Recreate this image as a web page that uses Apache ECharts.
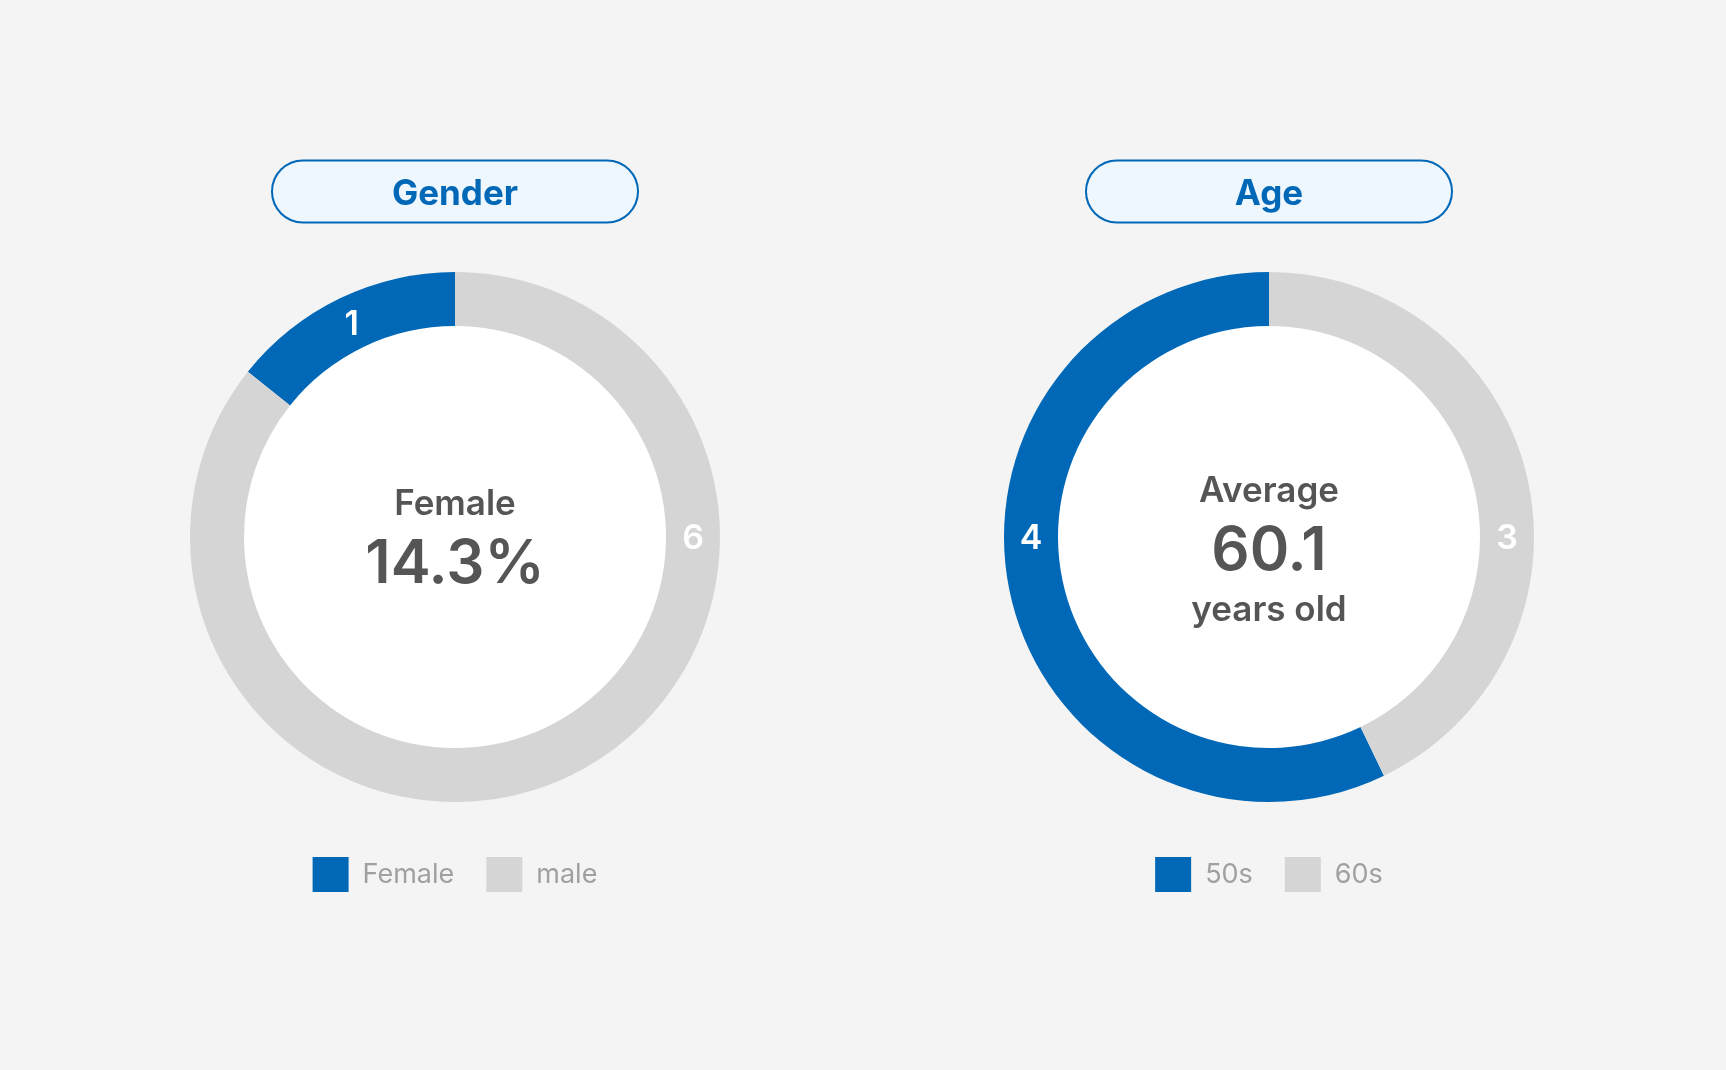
<!doctype html>
<html>
    <head>
        <meta charset="utf-8">
        <title>Gender / Age donuts</title>
        <style>
            html, body { margin: 0; padding: 0; background: #f4f4f4; }
            #stage { position: relative; width: 1726px; height: 1070px; overflow: hidden; }
            .chart { position: absolute; top: 0; height: 1070px; }
            #gender { left: 0; width: 910px; }
            #age { left: 812px; width: 914px; }
        </style>
    </head>
    <body>
        <div id="stage">
            <div id="gender" class="chart"></div>
            <div id="age" class="chart"></div>
        </div>
        <script src="https://cdn.jsdelivr.net/npm/echarts@6/dist/echarts.min.js"></script>
        <script>

            // data
            var genderNames = ['Female', 'male'];
            var genderValues = [1, 6];
            var ageNames = ['50s', '60s'];
            var ageValues = [4, 3];
            var averageAge = 60.1;

            var BLUE = '#0068b7';
            var GREY = '#d5d5d5';
            var TEXT = '#555555';
            var FONT = 'Inter, "Noto Sans", sans-serif';

            var CY = 537, R_IN = 211, R_OUT = 265;

            // label sits where the slice crosses the horizontal axis, else mid-slice
            function labelAngle(values, idx) {
                var total = values.reduce(function (a, b) { return a + b; }, 0);
                var start = 90;
                for (var i = 0; i < idx; i++) start += values[i] / total * 360;
                var end = start + values[idx] / total * 360;
                if (start <= 360 && end >= 360) return 0;
                if (start <= 180 && end >= 180) return 180;
                return (start + end) / 2;
            }

            function buildOption(title, names, values, centerText, chartWidth) {
                var cx = chartWidth / 2;
                var rMid = (R_IN + R_OUT) / 2;
                return {
                    animation: false,
                    graphic: [{
                        type: 'circle',
                        z: -1,
                        silent: true,
                        shape: { cx: cx, cy: CY, r: R_IN + 1 },
                        style: { fill: '#ffffff' }
                    }],
                    title: [{
                        left: 'center',
                        top: 164,
                        padding: 0,
                        text: '{pill|' + title + '}',
                        textStyle: {
                            rich: {
                                pill: {
                                    width: 364,
                                    height: 55,
                                    lineHeight: 55,
                                    padding: [5, 0, 0, 0],
                                    align: 'center',
                                    backgroundColor: '#eff7fe',
                                    borderColor: BLUE,
                                    borderWidth: 2,
                                    borderRadius: 31,
                                    color: BLUE,
                                    fontSize: 35,
                                    fontWeight: 'bold',
                                    fontFamily: FONT
                                }
                            }
                        }
                    }, {
                        left: 'center',
                        top: centerText.top,
                        padding: 0,
                        text: centerText.text,
                        textStyle: {
                            rich: {
                                a: { fontSize: 35, fontWeight: 600, color: TEXT, lineHeight: 62, align: 'center', fontFamily: FONT },
                                b: { fontSize: 60, fontWeight: 600, color: TEXT, lineHeight: 60, align: 'center', fontFamily: FONT },
                                c: { fontSize: 35, fontWeight: 600, color: TEXT, lineHeight: 56, align: 'center', fontFamily: FONT }
                            }
                        }
                    }],
                    legend: {
                        left: 'center',
                        top: 857,
                        padding: 0,
                        icon: 'rect',
                        itemWidth: 36,
                        itemHeight: 35,
                        itemGap: 32,
                        data: names,
                        textStyle: {
                            color: '#a0a0a0',
                            fontSize: 27,
                            fontFamily: FONT,
                            padding: [0, 0, 0, 9]
                        }
                    },
                    series: [{
                        type: 'pie',
                        silent: true,
                        center: [cx, CY],
                        radius: [R_IN, R_OUT],
                        startAngle: 90,
                        clockwise: false,
                        avoidLabelOverlap: false,
                        color: [BLUE, GREY],
                        label: {
                            show: true,
                            position: 'inside',
                            formatter: '{c}',
                            color: '#ffffff',
                            fontSize: 34,
                            fontWeight: 600,
                            fontFamily: FONT
                        },
                        labelLine: { show: false },
                        labelLayout: function (params) {
                            var a = labelAngle(values, params.dataIndex) * Math.PI / 180;
                            return {
                                x: cx + rMid * Math.cos(a),
                                y: CY + 2 - rMid * Math.sin(a),
                                align: 'center',
                                verticalAlign: 'middle'
                            };
                        },
                        data: names.map(function (n, i) { return { name: n, value: values[i] }; })
                    }]
                };
            }

            var genderTotal = genderValues.reduce(function (a, b) { return a + b; }, 0);
            var femalePct = (genderValues[0] / genderTotal * 100).toFixed(1) + '%';

            var genderChart = echarts.init(document.getElementById('gender'));
            genderChart.setOption(buildOption('Gender', genderNames, genderValues, {
                top: 473,
                text: '{a|' + genderNames[0] + '}\n{b|' + femalePct + '}'
            }, 910));

            var ageChart = echarts.init(document.getElementById('age'));
            ageChart.setOption(buildOption('Age', ageNames, ageValues, {
                top: 460,
                text: '{a|Average}\n{b|' + averageAge + '}\n{c|years old}'
            }, 914));

        </script>
    </body>
</html>
